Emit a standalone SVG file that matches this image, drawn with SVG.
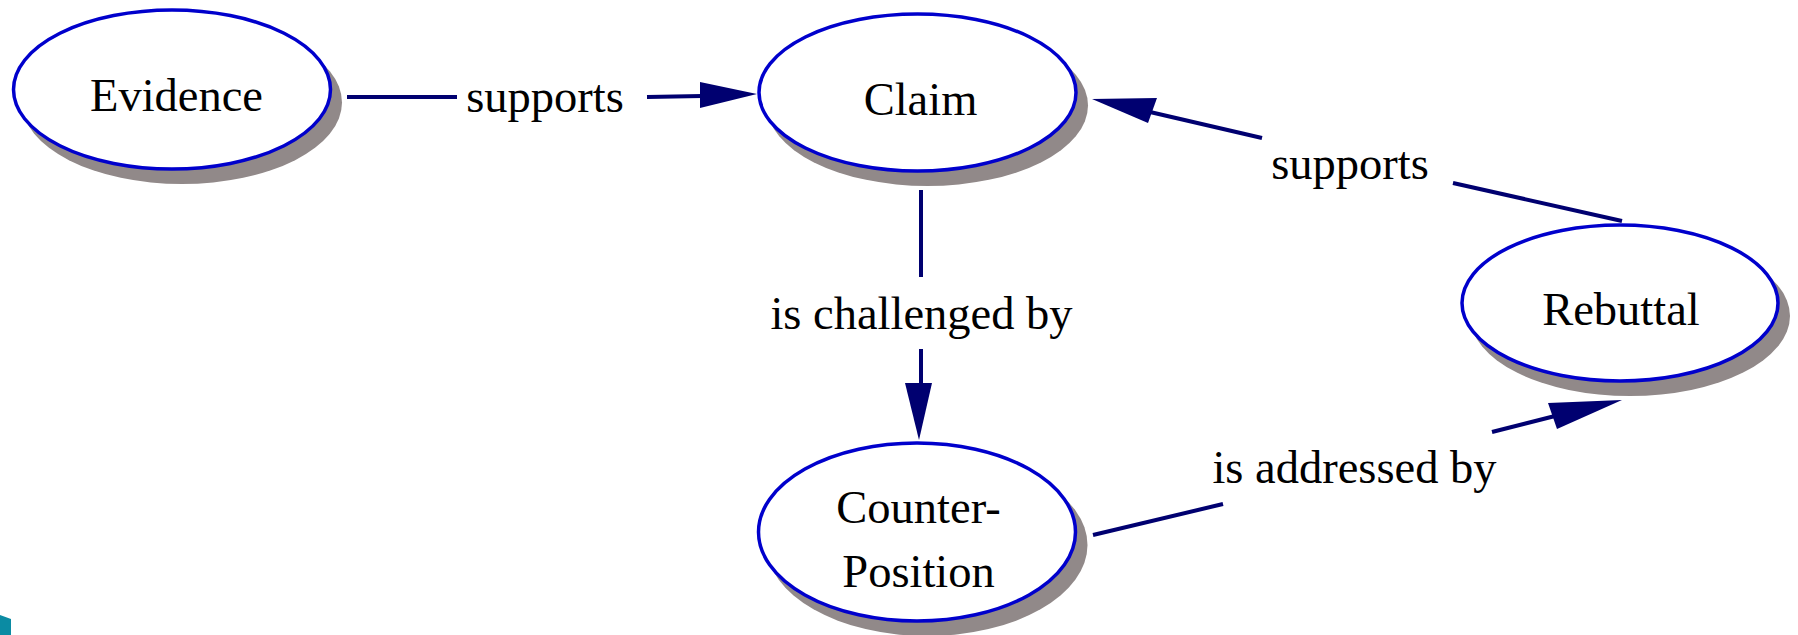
<svg xmlns="http://www.w3.org/2000/svg" width="1798" height="635" viewBox="0 0 1798 635">
  <style>
    .shadow { fill: #918989; stroke: none; }
    .node { fill: #ffffff; stroke: #0000cc; stroke-width: 3.5; }
    .label { font-family: "Liberation Serif", "Times New Roman", serif; font-size: 46.5px; fill: #000000; text-anchor: middle; }
    .edge { stroke: #000070; stroke-width: 4; fill: none; }
    .head { fill: #000070; stroke: none; }
  </style>
  <rect width="1798" height="635" fill="#ffffff"/>

  <!-- connectors -->
  <g id="connectors">
    <!-- Evidence supports Claim -->
    <line class="edge" x1="347" y1="97" x2="457" y2="97"/>
    <line class="edge" x1="647" y1="97" x2="702" y2="96"/>
    <polygon class="head" points="700,82 757,94 700,108"/>
    <text class="label" x="545" y="112">supports</text>

    <!-- Rebuttal supports Claim -->
    <line class="edge" x1="1622" y1="221" x2="1453" y2="183"/>
    <line class="edge" x1="1262" y1="138" x2="1150" y2="112"/>
    <polygon class="head" points="1092,99 1157,98 1148,123"/>
    <text class="label" x="1350" y="179">supports</text>

    <!-- Claim is challenged by Counter-Position -->
    <line class="edge" x1="921" y1="190" x2="921" y2="277"/>
    <line class="edge" x1="921" y1="349" x2="921" y2="385"/>
    <polygon class="head" points="905,383 919,440 932,383"/>
    <text class="label" x="921.5" y="329">is challenged by</text>

    <!-- Counter-Position is addressed by Rebuttal -->
    <line class="edge" x1="1093" y1="535" x2="1223" y2="504"/>
    <line class="edge" x1="1492" y1="432" x2="1555" y2="416"/>
    <polygon class="head" points="1548,403 1622,400 1557,429"/>
    <text class="label" x="1354.5" y="483">is addressed by</text>
  </g>

  <g id="evidence">
    <ellipse class="shadow" cx="182" cy="102.5" rx="160" ry="81.5"/>
    <ellipse class="node" cx="172" cy="89.5" rx="158.5" ry="79.5"/>
    <text class="label" x="176.5" y="111">Evidence</text>
  </g>

  <g id="claim">
    <ellipse class="shadow" cx="927.5" cy="105.5" rx="160.5" ry="80.5"/>
    <ellipse class="node" cx="917.5" cy="92.5" rx="158.5" ry="78.5"/>
    <text class="label" x="920.5" y="115">Claim</text>
  </g>

  <g id="counter-position">
    <ellipse class="shadow" cx="927" cy="545" rx="160.5" ry="91"/>
    <ellipse class="node" cx="917" cy="532" rx="158.5" ry="89"/>
    <text class="label" x="918.5" y="523">Counter-</text>
    <text class="label" x="918.5" y="587">Position</text>
  </g>

  <g id="rebuttal">
    <ellipse class="shadow" cx="1630" cy="316" rx="160" ry="80"/>
    <ellipse class="node" cx="1620" cy="303" rx="158" ry="78"/>
    <text class="label" x="1621" y="325">Rebuttal</text>
  </g>

  <!-- corner of the page ornament -->
  <polygon points="0,615 11,619 11,635 0,635" fill="#0b8ba3"/>
</svg>
